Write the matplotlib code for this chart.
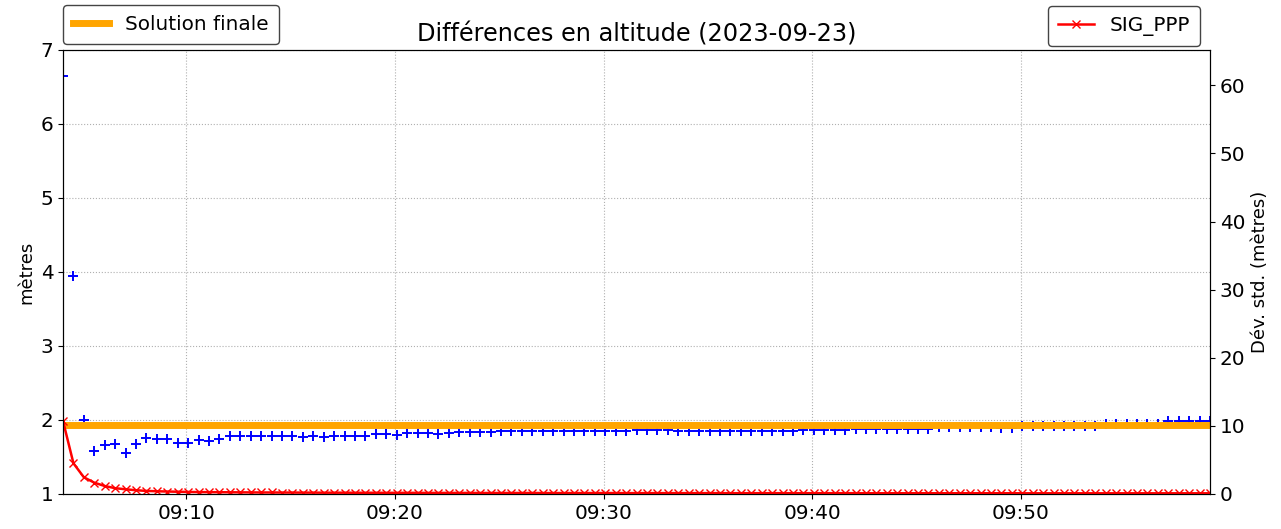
import matplotlib
matplotlib.use("Agg")
import matplotlib.pyplot as plt
import matplotlib.dates as mdates
import numpy as np
import pandas as pd

# data: 30 s epochs starting 09:04:05
start_time = "2023-09-23 09:04:05"
n_epochs = 111
times = pd.date_range(start_time, periods=n_epochs, freq="30s")

# height differences (m), left axis
diff_height = [
    6.65, 3.95, 2.00, 1.58, 1.66, 1.68, 1.55, 1.67, 1.76, 1.74,
    1.74, 1.69, 1.69, 1.73, 1.71, 1.74, 1.78, 1.78, 1.78, 1.78,
    1.78, 1.79, 1.78, 1.77, 1.79, 1.77, 1.79, 1.79, 1.79, 1.79,
    1.81, 1.81, 1.80, 1.82, 1.82, 1.82, 1.81, 1.82, 1.84, 1.84,
    1.84, 1.835, 1.855, 1.855, 1.855, 1.85, 1.85, 1.85, 1.85, 1.85,
    1.85, 1.85, 1.85, 1.85, 1.85, 1.865, 1.865, 1.865, 1.865, 1.85,
    1.85, 1.85, 1.85, 1.85, 1.85, 1.85, 1.85, 1.85, 1.85, 1.85,
    1.85, 1.865, 1.865, 1.865, 1.865, 1.865, 1.88, 1.88, 1.88, 1.88,
    1.88, 1.88, 1.88, 1.88, 1.90, 1.90, 1.90, 1.90, 1.90, 1.90,
    1.89, 1.89, 1.92, 1.92, 1.92, 1.92, 1.92, 1.92, 1.92, 1.92,
    1.945, 1.945, 1.945, 1.945, 1.945, 1.945, 1.98, 1.98, 1.98, 1.98,
    1.98,
]

# final solution (m)
final_solution = 1.93

# SIG_PPP std dev (m), right axis
sig_ppp = [
    10.7, 4.5, 2.45, 1.66, 1.17, 0.85, 0.69, 0.55, 0.45, 0.40,
    0.36, 0.33, 0.30, 0.28, 0.27, 0.26, 0.25, 0.24, 0.23, 0.22,
    0.22, 0.21, 0.21, 0.20, 0.20, 0.19, 0.19, 0.19, 0.18, 0.18,
    0.18, 0.17, 0.17, 0.17, 0.17, 0.16, 0.16, 0.16, 0.16, 0.16,
    0.15, 0.15, 0.15, 0.15, 0.15, 0.15, 0.14, 0.14, 0.14, 0.14,
    0.14, 0.14, 0.14, 0.14, 0.13, 0.13, 0.13, 0.13, 0.13, 0.13,
    0.13, 0.13, 0.13, 0.13, 0.12, 0.12, 0.12, 0.12, 0.12, 0.12,
    0.12, 0.12, 0.12, 0.12, 0.12, 0.12, 0.12, 0.11, 0.11, 0.11,
    0.11, 0.11, 0.11, 0.11, 0.11, 0.11, 0.11, 0.11, 0.11, 0.11,
    0.11, 0.11, 0.10, 0.10, 0.10, 0.10, 0.10, 0.10, 0.10, 0.10,
    0.10, 0.10, 0.10, 0.10, 0.10, 0.10, 0.10, 0.10, 0.10, 0.10,
    0.10,
]

# plot
fig = plt.figure(figsize=(12.81, 5.29), dpi=100)
ax1 = fig.add_axes([0.0492, 0.0662, 0.8954, 0.8393])

ax1.plot(times, diff_height, linestyle="none", marker="+", color="blue",
         markersize=6.5, markeredgewidth=1.4)
line_sol, = ax1.plot([times[0], times[-1]], [final_solution, final_solution],
                     color="orange", linewidth=5, label="Solution finale")
ax1.set_ylim(1, 7)
ax1.set_yticks(range(1, 8))
ax1.set_xlim(times[0], times[-1])
ax1.set_ylabel("mètres", fontsize=13)
ax1.grid(True, linestyle=":", color="#b0b0b0", linewidth=0.8)
ax1.tick_params(labelsize=14.4)
ax1.xaxis.set_major_locator(mdates.MinuteLocator(byminute=[0, 10, 20, 30, 40, 50]))
ax1.xaxis.set_major_formatter(mdates.DateFormatter("%H:%M"))

ax2 = ax1.twinx()
line_sig, = ax2.plot(times, sig_ppp, color="red", marker="x", markersize=5.5,
                     linewidth=1.8, label="SIG_PPP")
ax2.set_ylim(0, 65.2)
ax2.set_ylabel("Dév. std. (mètres)", fontsize=13)
ax2.tick_params(labelsize=14.4)

ax1.set_title("Différences en altitude (2023-09-23)", fontsize=17.3)

ax1.legend(handles=[line_sol], loc="lower left", bbox_to_anchor=(0, 1.013),
           borderaxespad=0, fontsize=14.4, framealpha=1, edgecolor="#444444",
           borderpad=0.5, handlelength=1.8)
ax2.legend(handles=[line_sig], loc="lower right", bbox_to_anchor=(0.9913, 1.01),
           borderaxespad=0, fontsize=14.4, framealpha=1, edgecolor="#444444",
           borderpad=0.5, handlelength=1.8)

fig.savefig("out.png", dpi=100)
